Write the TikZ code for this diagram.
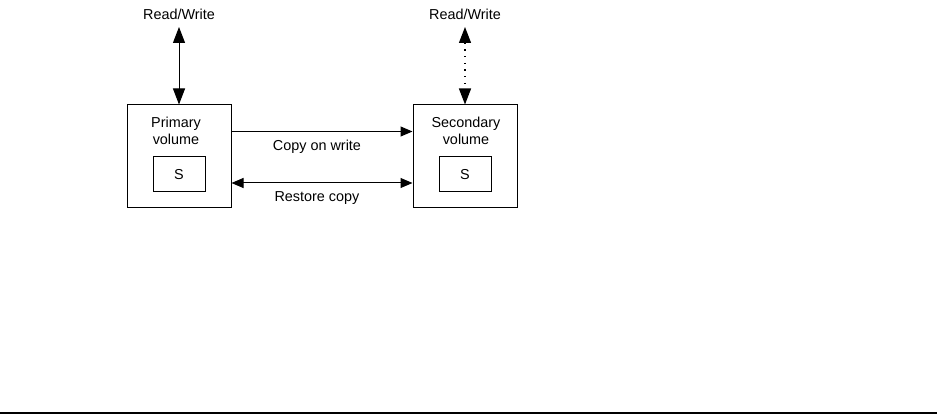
\documentclass[tikz,border=0pt]{standalone}
\usepackage{fontspec}
\setmainfont{Liberation Sans}
\usetikzlibrary{arrows.meta}
\tikzset{
  every picture/.style={x=1pt,y=-1pt,line width=1pt},
  rw/.tip={Triangle[length=16pt,width=12pt]},
  cp/.tip={Triangle[length=12pt,width=10pt]},
  vol/.style={draw,minimum width=104pt,minimum height=103pt,inner sep=0pt},
  snap/.style={draw,minimum width=52pt,minimum height=35pt,inner sep=0pt,
    font=\fontsize{14.4}{16.5}\selectfont},
  lbl/.style={font=\fontsize{14.4}{16.5}\selectfont,align=center,inner sep=0pt},
}
\begin{document}
\begin{tikzpicture}
\useasboundingbox (0,0) rectangle (937,414);
% volumes
\node[vol] (pri) at (179,156.5) {};
\node[vol] (sec) at (465,156.5) {};
\node[lbl] (prilbl) at (176,131) {Primary\\volume};
\node[lbl] (seclbl) at (466,131) {Secondary\\volume};
\node[snap] (pris) at (179,174.5) {S};
\node[snap] (secs) at (465,174.5) {S};
% host access
\node[lbl] (rwpri) at (179,14) {Read/Write};
\node[lbl] (rwsec) at (465,14) {Read/Write};
\coordinate (rwpriend) at (179,27);
\coordinate (rwsecend) at (465,27);
\draw[{rw}-{rw}] (rwpriend)--(pri.north);
\draw[{rw}-{rw},line width=1.3pt,dash pattern=on 1.3pt off 5.4pt] (rwsecend)--(sec.north);
% copy pairs
\draw[-{cp}] ([yshift=25pt]pri.east)--([yshift=25pt]sec.west);
\draw[{cp}-{cp}] ([yshift=-26.5pt]pri.east)--([yshift=-26.5pt]sec.west);
\node[lbl] (cow) at (317,147) {Copy on write};
\node[lbl] (rest) at (317,198) {Restore copy};
\draw[line width=2.3pt] (0,412.85)--(937,412.85);
\end{tikzpicture}
\end{document}
